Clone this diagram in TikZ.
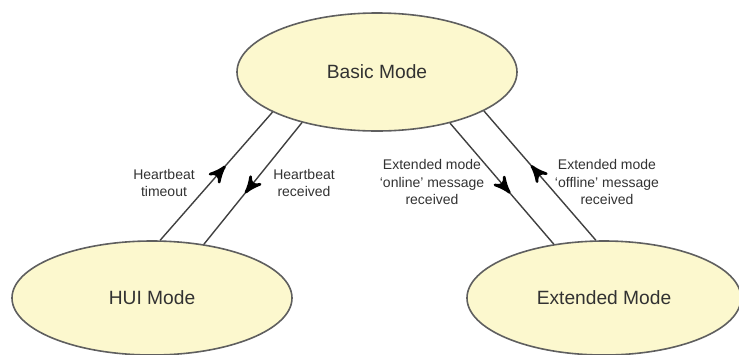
\documentclass[tikz,border=0pt]{standalone}
\usepackage{fontspec}
\setmainfont{Liberation Sans}
\usepackage{tikz}
\usetikzlibrary{arrows, shapes.geometric, decorations.markings}
\definecolor{modefill}{RGB}{252,248,206}
\definecolor{modeline}{RGB}{95,95,95}
\definecolor{textgray}{RGB}{50,50,50}
\tikzset{x=0.5pt, y=-0.5pt,
    mode/.style={ellipse,draw=modeline,fill=modefill,line width=0.8pt,
        minimum width=140pt,minimum height=59pt,inner sep=0pt,
        text=textgray,font=\fontsize{9.6}{12}\selectfont},
    trans/.style={draw=black!75,line width=0.7pt,
        postaction={decorate},
        decoration={markings,mark=at position 0.58 with {\arrow[black,scale=1.9]{stealth'}}}},
    textnode/.style={align=center,text=textgray,font=\fontsize{7}{8.6}\selectfont}}

\begin{document}
\begin{tikzpicture}
\useasboundingbox (0,0) rectangle (739,354);
\node[mode] (basic) at (377,72)  {Basic Mode};
\node[mode,minimum height=57pt] (hui)   at (152,298) {HUI Mode};
\node[mode,minimum height=57pt,minimum width=137pt] (ext) at (604,298) {Extended Mode};

\path[]
	(hui.82)	edge 	[trans] 	node [] {} (basic.201)
	(basic.214)	edge 	[trans] 	node [] {} (hui.46)
	(basic.-35)	edge 	[trans] 	node [] {} (ext.133)
	(ext.98)	edge 	[trans] 	node [] {} (basic.-20);

\node[textnode] (timeout) at (164,183) {Heartbeat\\timeout};
\node[textnode] (received) at (304,183) {Heartbeat\\received};
\node[textnode] (online) at (432,182) {Extended mode\\`online' message\\received};
\node[textnode] (offline) at (607,182) {Extended mode\\`offline' message\\received};
\end{tikzpicture}
\end{document}
